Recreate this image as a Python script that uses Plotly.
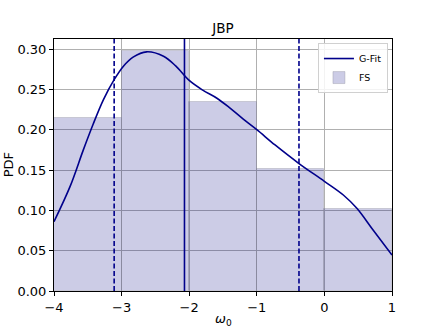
import plotly.graph_objects as go

# histogram (FS)
bin_centers = [-3.5, -2.5, -1.5, -0.5, 0.5]
bin_heights = [0.215, 0.298, 0.234, 0.151, 0.102]

# fitted curve (G-Fit)
fit_x = [-4.0, -3.76, -3.57, -3.42, -3.27, -3.11, -2.97, -2.83, -2.63, -2.38, -2.2,
         -2.0, -1.8, -1.59, -1.4, -1.2, -1.0, -0.73, -0.376, 0.0, 0.28, 0.48, 0.72, 1.0]
fit_y = [0.086, 0.130, 0.174, 0.207, 0.237, 0.262, 0.279, 0.290, 0.2965, 0.291, 0.279,
         0.261, 0.249, 0.239, 0.227, 0.213, 0.200, 0.181, 0.158, 0.136, 0.119, 0.1025,
         0.0756, 0.0446]

mean_val = -2.07
bounds = [-3.11, -0.376]

navy = "#00008B"

fig = go.Figure()
fig.add_trace(go.Bar(
    x=bin_centers, y=bin_heights, width=1, name="FS",
    marker=dict(color="rgba(0,0,128,0.2)", line=dict(color="rgba(140,140,155,0.35)", width=1)),
))
fig.add_trace(go.Scatter(
    x=fit_x, y=fit_y, mode="lines", name="G-Fit",
    line=dict(color=navy, width=1.6, shape="spline", smoothing=1.0),
))
fig.add_vline(x=mean_val, line=dict(color=navy, width=1.6))
for b in bounds:
    fig.add_vline(x=b, line=dict(color=navy, width=1.6, dash="5px,2.5px"))

axis_common = dict(
    showline=True, linecolor="black", linewidth=1, mirror=True,
    ticks="outside", ticklen=4, tickcolor="black",
    showgrid=True, gridcolor="#b0b0b0", gridwidth=1, zeroline=False,
    tickfont=dict(size=13, color="black"), automargin=False,
)
fig.update_xaxes(range=[-4, 1], tickvals=[-4, -3, -2, -1, 0, 1], **axis_common)
fig.update_yaxes(range=[0, 0.3124], tickvals=[0, 0.05, 0.10, 0.15, 0.20, 0.25, 0.30],
                 tickformat=".2f", **axis_common)

# axis titles placed as annotations for exact positioning
fig.add_annotation(text="<i>ω</i><sub>0</sub>", xref="paper", yref="paper",
                   x=0.5, y=-0.113, xanchor="center", yanchor="middle",
                   showarrow=False, font=dict(size=13))
fig.add_annotation(text="PDF", xref="paper", yref="paper", textangle=-90,
                   x=-0.135, y=0.5, xanchor="center", yanchor="middle",
                   showarrow=False, font=dict(size=13))

fig.update_layout(
    width=436, height=327,
    margin=dict(l=54, r=44, t=39, b=36),
    plot_bgcolor="white", paper_bgcolor="white",
    font=dict(family="DejaVu Sans", color="black"),
    title=dict(text="JBP", x=0.5115, xanchor="center", y=0.914, yanchor="middle",
               font=dict(size=13.5)),
    bargap=0,
    legend=dict(x=0.988, y=0.984, xanchor="right", yanchor="top", traceorder="reversed",
                bgcolor="rgba(255,255,255,0.85)", bordercolor="#d0d0d0", borderwidth=1,
                font=dict(size=9.5), itemwidth=30, tracegroupgap=0),
    showlegend=True,
)

# drop the default 8px page margin so the figure sits at the window's corner
fig.write_html("out.html", config={"displayModeBar": False},
               post_script="document.body.style.margin='0';")
